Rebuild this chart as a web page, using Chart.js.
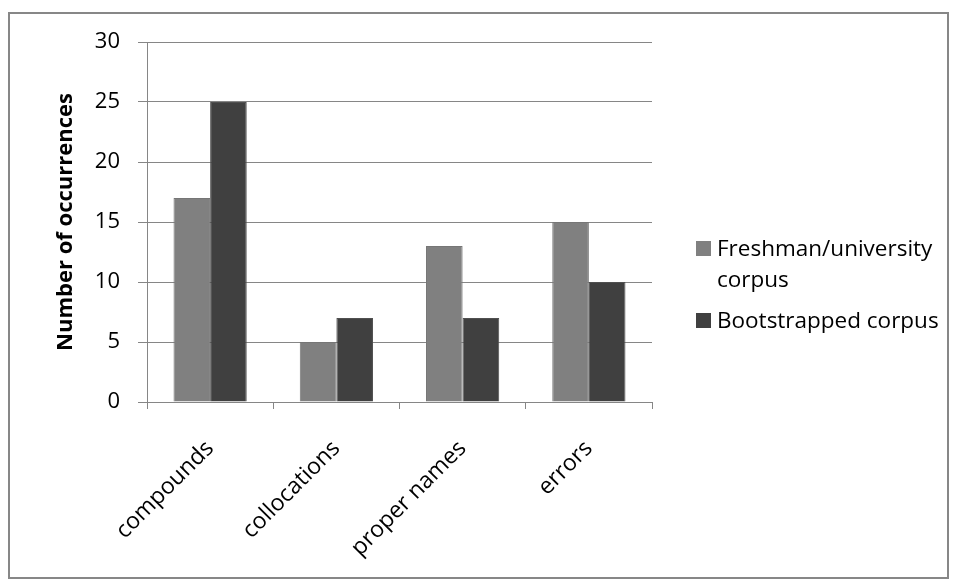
<!DOCTYPE html>
<html>
<head>
<meta charset="utf-8">
<script src="https://cdn.jsdelivr.net/npm/chart.js@4.4.1/dist/chart.umd.min.js"></script>
<style>
  body { margin: 0; background: #fff; }
  #wrap { position: relative; width: 957px; height: 584px; }
  #frame { position: absolute; left: 8px; top: 12px; width: 937px; height: 563px; border: 2px solid #878787; pointer-events: none; }
</style>
</head>
<body>
<div id="wrap">
  <canvas id="chart" width="957" height="584"></canvas>
  <div id="frame"></div>
</div>
<script>
const categories = ["compounds", "collocations", "proper names", "errors"];
const freshman = [17, 5, 13, 15];
const bootstrapped = [25, 7, 7, 10];
const seriesNames = [["Freshman/university", "corpus"], ["Bootstrapped corpus"]];
const yTicks = [0, 5, 10, 15, 20, 25, 30];

const font = "'Open Sans', sans-serif";

// legend on the right, drawn by hand so the first label can wrap
const sideLegend = {
  id: "sideLegend",
  afterDraw(chart) {
    const ctx = chart.ctx;
    ctx.save();
    ctx.font = "22.5px " + font;
    ctx.textBaseline = "alphabetic";
    const tops = [256, 328];
    chart.data.datasets.forEach((ds, i) => {
      ctx.fillStyle = ds.backgroundColor;
      ctx.fillRect(696, tops[i] - 15, 15, 15);
      ctx.fillStyle = "#000";
      seriesNames[i].forEach((line, j) => {
        ctx.fillText(line, 717, tops[i] + j * 31);
      });
    });
    ctx.restore();
  }
};

new Chart(document.getElementById("chart"), {
  type: "bar",
  data: {
    labels: categories,
    datasets: [
      { label: seriesNames[0].join(" "), data: freshman, backgroundColor: "#808080", borderColor: "#767676", borderWidth: 1 },
      { label: seriesNames[1].join(" "), data: bootstrapped, backgroundColor: "#404040", borderColor: "#505050", borderWidth: 1 }
    ]
  },
  options: {
    responsive: false,
    animation: false,
    layout: { padding: { left: 0, top: 42, right: 305, bottom: 0 } },
    datasets: { bar: { categoryPercentage: 0.58, barPercentage: 1 } },
    plugins: { legend: { display: false }, tooltip: { enabled: false } },
    scales: {
      x: {
        afterFit: s => { s.height = 182; },
        grid: { offset: true, drawOnChartArea: false, drawTicks: true, tickLength: 7, color: "#868686" },
        border: { color: "#868686" },
        ticks: { color: "#000", font: { family: font, size: 23 }, minRotation: 45, maxRotation: 45, padding: 26 }
      },
      y: {
        min: 0,
        max: 30,
        afterFit: s => { s.width = 147; },
        afterBuildTicks: s => { s.ticks = yTicks.map(v => ({ value: v })); },
        grid: { color: "#868686", tickLength: 9 },
        border: { color: "#868686" },
        ticks: { color: "#000", font: { family: font, size: 22 }, padding: 18 },
        title: {
          display: true,
          text: "Number of occurrences",
          color: "#000",
          font: { family: font, size: 22, weight: "bold" },
          padding: { top: 53 }
        }
      }
    }
  },
  plugins: [sideLegend]
});
</script>
</body>
</html>
